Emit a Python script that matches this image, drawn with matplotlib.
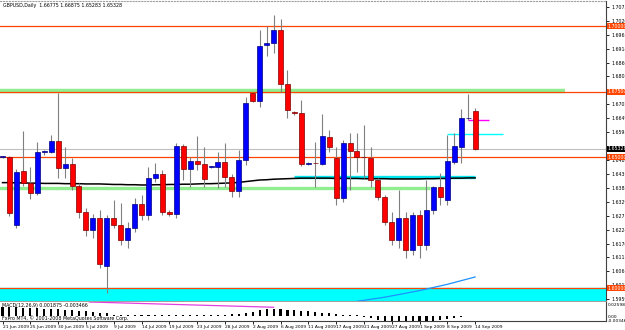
import numpy as np
import matplotlib
matplotlib.use('Agg')
import matplotlib.pyplot as plt
from matplotlib.patches import Rectangle

plt.rcParams['font.family'] = ['Liberation Sans Narrow', 'DejaVu Sans']

# ---- data (GBPUSD daily) ----
opens = [1.6501, 1.6501, 1.6241, 1.6447, 1.6402, 1.6363, 1.6520, 1.6520, 1.6562, 1.6459,
         1.6474, 1.6390, 1.6291, 1.6222, 1.6268, 1.6085, 1.6268, 1.6241, 1.6184, 1.6230,
         1.6321, 1.6280, 1.6421, 1.6436, 1.6291, 1.6283, 1.6543, 1.6455, 1.6486, 1.6474,
         1.6463, 1.6463, 1.6482, 1.6424, 1.6371, 1.6489, 1.6745, 1.6714, 1.6928, 1.6936,
         1.6985, 1.6779, 1.6672, 1.6669, 1.6474, 1.6478, 1.6474, 1.6577, 1.6497, 1.6344,
         1.6554, 1.6524, 1.6501, 1.6497, 1.6413, 1.6348, 1.6253, 1.6184, 1.6268, 1.6146,
         1.6280, 1.6165, 1.6299, 1.6386, 1.6337, 1.6482, 1.6539, 1.6648, 1.66775]
highs = [1.6505, 1.6505, 1.6455, 1.6600, 1.6463, 1.6558, 1.6528, 1.6585, 1.6745, 1.6539,
         1.6497, 1.6402, 1.6306, 1.6283, 1.6299, 1.6280, 1.6337, 1.6325, 1.6253, 1.6345,
         1.6356, 1.6463, 1.6478, 1.6451, 1.6299, 1.6554, 1.6550, 1.6500, 1.6581, 1.6539,
         1.6468, 1.6520, 1.6554, 1.6436, 1.6527, 1.6730, 1.6749, 1.6985, 1.7001, 1.7042,
         1.7027, 1.6833, 1.6676, 1.6718, 1.6480, 1.6558, 1.6665, 1.6604, 1.6539, 1.6566,
         1.6592, 1.6592, 1.6623, 1.6539, 1.6421, 1.6356, 1.6291, 1.6375, 1.6291, 1.6291,
         1.6299, 1.6413, 1.6390, 1.6440, 1.6585, 1.6592, 1.6684, 1.6741, 1.66875]
lows = [1.6497, 1.6276, 1.6230, 1.6390, 1.6340, 1.6356, 1.6510, 1.6515, 1.6421, 1.6421,
        1.6375, 1.6268, 1.6199, 1.6192, 1.6077, 1.5982, 1.6230, 1.6165, 1.6154, 1.6215,
        1.6260, 1.6260, 1.6405, 1.6280, 1.6276, 1.6268, 1.6413, 1.6386, 1.6451, 1.6386,
        1.6460, 1.6382, 1.6386, 1.6348, 1.6348, 1.6470, 1.6710, 1.6692, 1.6886, 1.6898,
        1.6749, 1.6650, 1.6661, 1.6466, 1.6470, 1.6386, 1.6470, 1.6520, 1.6318, 1.6329,
        1.6375, 1.6444, 1.6421, 1.6386, 1.6337, 1.6241, 1.6165, 1.6154, 1.6115, 1.6127,
        1.6115, 1.6146, 1.6283, 1.6318, 1.6318, 1.6474, 1.6478, 1.6642, 1.65283]
closes = [1.6503, 1.6287, 1.6444, 1.6402, 1.6363, 1.6520, 1.6522, 1.6562, 1.6459, 1.6474,
          1.6390, 1.6291, 1.6222, 1.6268, 1.6093, 1.6268, 1.6241, 1.6184, 1.6230, 1.6321,
          1.6280, 1.6421, 1.6436, 1.6291, 1.6283, 1.6543, 1.6455, 1.6486, 1.6474, 1.6417,
          1.6465, 1.6482, 1.6424, 1.6371, 1.6489, 1.6707, 1.6714, 1.6924, 1.6936, 1.6985,
          1.6779, 1.6680, 1.6669, 1.6474, 1.6476, 1.6476, 1.6581, 1.6539, 1.6344, 1.6554,
          1.6524, 1.6501, 1.6499, 1.6413, 1.6348, 1.6253, 1.6184, 1.6268, 1.6146, 1.6280,
          1.6165, 1.6299, 1.6386, 1.6348, 1.6486, 1.6543, 1.6650, 1.6651, 1.65328]

ma_black = [1.6403, 1.6403, 1.6402, 1.6402, 1.6401, 1.6401, 1.6400,
            1.6400, 1.6400, 1.6399, 1.6399, 1.6399, 1.6398, 1.6398,
            1.6398, 1.6397, 1.6396, 1.6396, 1.6395, 1.6395, 1.6394,
            1.6394, 1.6395, 1.6395, 1.6396, 1.6396, 1.6397, 1.6397,
            1.6398, 1.6399, 1.6399, 1.6400, 1.6401, 1.6402, 1.6404,
            1.6407, 1.6410, 1.6413, 1.6414, 1.6416, 1.6417, 1.6418,
            1.6419, 1.6420, 1.6420, 1.6420, 1.6420, 1.6420, 1.6419,
            1.6419, 1.6419, 1.6419, 1.6418, 1.6418, 1.6418, 1.6418,
            1.6417, 1.6417, 1.6417, 1.6417, 1.6417, 1.6418, 1.6418,
            1.6419, 1.6419, 1.6420, 1.6420, 1.6421, 1.6421]
ma_blue_start = 51
ma_blue = [1.5950, 1.5954, 1.5958, 1.5962, 1.5966, 1.5971, 1.5976, 1.5981, 1.5986,
           1.5991, 1.5997, 1.6003, 1.6009, 1.6015, 1.6022, 1.6029, 1.6036, 1.6043]

macd_hist = [0.0234, 0.0234, 0.0221, 0.0208, 0.0208, 0.0195, 0.0182, 0.0182, 0.0169, 0.0156,
             0.0143, 0.0130, 0.0117, 0.0104, 0.0078, 0.0065, 0.0026, 0.0013, 0.0013, 0.0013,
             0.0013, 0.0013, 0.0013, 0.0013, 0.0013, 0.0013, 0.0013, 0.0013, 0.0013, 0.0013,
             0.0013, 0.0013, 0.0026, 0.0039, 0.0052, 0.0078, 0.0104, 0.0156, 0.0182, 0.0182,
             0.0182, 0.0156, 0.0156, 0.0130, 0.0130, 0.0104, 0.0078, 0.0078, 0.0039, 0.0026,
             0.0013, 0.0013, -0.0026, -0.0052, -0.0104, -0.0130, -0.0130, -0.0130, -0.0156, -0.0156,
             -0.0156, -0.0130, -0.0130, -0.0104, -0.0078, -0.0052, -0.0026, -0.0013, -0.0013]
signal_x = [12.5, 39]
signal_y = [0.0364, 0.0226]

date_labels = ['21 Jun 2009', '25 Jun 2009', '30 Jun 2009', '5 Jul 2009', '9 Jul 2009',
               '14 Jul 2009', '19 Jul 2009', '23 Jul 2009', '28 Jul 2009', '2 Aug 2009',
               '6 Aug 2009', '11 Aug 2009', '17 Aug 2009', '21 Aug 2009', '27 Aug 2009',
               '1 Sep 2009', '8 Sep 2009', '14 Sep 2009']
price_ticks = [1.70730, 1.70200, 1.69670, 1.69140, 1.68600, 1.68080, 1.67020,
               1.66490, 1.65950, 1.64890, 1.64360, 1.63830, 1.63290, 1.62770,
               1.62240, 1.61700, 1.61180, 1.60640, 1.60120, 1.59590]

# levels drawn on the chart
red_levels = [1.7000, 1.6750, 1.6500, 1.6000]
green_band = (1.6752, 80.9)      # price, last bar reached
green_line = (1.6382, 61.5)
cyan_line = (1.6423, 42, 68)
cyan_short = (1.6588, 64, 72)
magenta_short = (1.6642, 67, 70)
cyan_zone = (1.5952, 1.6000)
bid = 1.65328

title = 'GBPUSD,Daily  1.66775 1.66875 1.65283 1.65328'

# ---- figure ----
FS = 3.4
fig = plt.figure(figsize=(6.25, 3.3), dpi=100)
fig.patch.set_facecolor('white')
ax = fig.add_axes([0, 29 / 330, 606 / 625, 300 / 330])
sub = fig.add_axes([0, 9 / 330, 606 / 625, 19 / 330], sharex=ax)

n = len(opens)
x = np.arange(n)
ax.set_xlim(-0.36, 86.83)
ax.set_ylim(1.59514, 1.70959)

# zone and levels
ax.axhspan(cyan_zone[0], cyan_zone[1], color='#00FFFF', zorder=1)
ax.hlines(green_band[0], -1, green_band[1], color='#90EE90', lw=3.2, zorder=2)
ax.hlines(green_line[0], -1, green_line[1], color='#90EE90', lw=2.4, zorder=2)
for lv in red_levels:
    ax.axhline(lv, color='#FF4500', lw=0.9, zorder=3)
ax.axhline(bid, color='#C0C0C0', lw=0.8, zorder=2)
ax.hlines(cyan_line[0], cyan_line[1], cyan_line[2], color='#00E5EE', lw=2.4, zorder=3)
ax.hlines(cyan_short[0], cyan_short[1], cyan_short[2], color='#00FFFF', lw=1.0, zorder=3)
ax.hlines(magenta_short[0], magenta_short[1], magenta_short[2], color='#FF00FF', lw=1.0, zorder=3)

# moving averages
ax.plot(x, ma_black, color='black', lw=1.1, zorder=4)
ax.plot(np.arange(ma_blue_start, ma_blue_start + len(ma_blue)), ma_blue,
        color='#1E90FF', lw=0.9, zorder=4)

# candles
ax.vlines(x, lows, highs, color='#808080', lw=0.8, zorder=5)
for i in range(n):
    o, c = opens[i], closes[i]
    up = c >= o
    fc = '#0000FF' if up else '#FF0000'
    ec = '#000080' if up else '#800000'
    bot = min(o, c)
    h = max(abs(c - o), 0.0002)
    ax.add_patch(Rectangle((i - 0.36, bot), 0.72, h, fc=fc, ec=ec, lw=0.5, zorder=6))

# right price scale
ax.yaxis.tick_right()
ax.set_yticks(price_ticks)
ax.set_yticklabels([f'{p:.5f}' for p in price_ticks], fontsize=FS)
ax.tick_params(axis='y', length=2.5, width=0.6, pad=1.2, colors='black')
ax.tick_params(axis='x', length=0, labelbottom=False)
for lv in red_levels:
    ax.text(1.003, lv, f'{lv:.5f}', transform=ax.get_yaxis_transform(), fontsize=FS,
            color='white', va='center', ha='left', clip_on=False,
            bbox=dict(fc='#FF4500', ec='none', pad=0.3))
ax.text(1.003, bid, f'{bid:.5f}', transform=ax.get_yaxis_transform(), fontsize=FS,
        color='white', va='center', ha='left', clip_on=False,
        bbox=dict(fc='black', ec='none', pad=0.3))
ax.text(0.005, 0.993, title, transform=ax.transAxes, fontsize=FS, va='top', ha='left')

ax.spines['left'].set_visible(False)
ax.spines['top'].set_color('#A0A0A0')
ax.spines['top'].set_linestyle(':')
ax.spines['bottom'].set_color('#A0A0A0')
ax.spines['right'].set_color('#404040')

# MACD window
sub.set_ylim(-0.0135, 0.0364)
sub.bar(x, macd_hist, width=0.3, color='black', zorder=3)
sub.plot(signal_x, signal_y, color='#E040E0', lw=0.9, zorder=2)
sub.text(0.004, 0.93, 'MACD(12,26,9) 0.001875 -0.003466', transform=sub.transAxes,
         fontsize=FS, va='top', ha='left')
sub.text(0.004, 0.0, 'FxPro MT4, \u00a9 2001-2008 MetaQuotes Software Corp.',
         transform=sub.transAxes, fontsize=FS, va='bottom', ha='left')
sub.set_yticks([])
sub.text(1.003, 0.82, '0.025986', transform=sub.transAxes, fontsize=FS - 0.2,
         va='center', ha='left', clip_on=False)
sub.text(1.003, 0.22, '0.00', transform=sub.transAxes, fontsize=FS - 0.2,
         va='center', ha='left', clip_on=False)
sub.text(1.003, -0.02, '-0.003466', transform=sub.transAxes, fontsize=FS - 0.2,
         va='center', ha='left', clip_on=False)
sub.spines['left'].set_visible(False)
sub.spines['top'].set_visible(False)
sub.spines['right'].set_color('#404040')
sub.spines['bottom'].set_color('#404040')

sub.set_xticks(np.arange(0, n, 4))
sub.set_xticklabels(date_labels, fontsize=3.2, ha='left')
sub.tick_params(axis='x', length=2, width=0.6, pad=0.8)

fig.savefig('out.png', dpi=100, facecolor='white')
